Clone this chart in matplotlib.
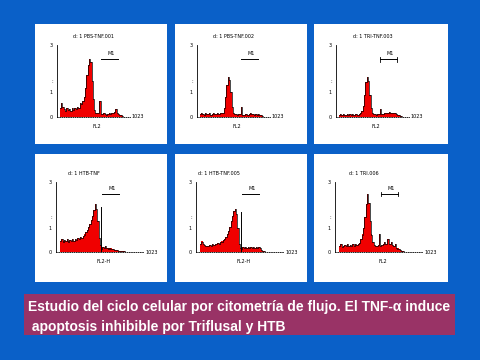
import numpy as np
import matplotlib
matplotlib.use("Agg")
import matplotlib.pyplot as plt
from matplotlib.patches import Rectangle

# ---- data (counts per 16-channel bin, FL2) ----
p1 = [12, 20, 14, 11, 9, 12, 10, 11, 9, 12, 10, 12, 11, 14, 12, 20, 18, 22, 28, 40,
      58, 72, 80, 76, 50, 25, 10, 6, 5, 5, 22, 4, 4, 5, 4, 3, 4, 5, 4, 5,
      6, 7, 11, 6, 4, 3, 3, 2]
p2 = [4, 5, 4, 3, 5, 4, 4, 5, 3, 4, 5, 4, 4, 5, 4, 5, 5, 6, 12, 28,
      45, 55, 52, 35, 14, 6, 4, 4, 3, 4, 4, 14, 3, 3, 4, 4, 3, 4, 5, 4,
      4, 3, 4, 3, 4, 3, 3, 2]
p3 = [3, 4, 3, 4, 3, 3, 4, 3, 4, 3, 4, 3, 4, 4, 3, 4, 5, 8, 15, 30,
      48, 56, 50, 30, 12, 5, 4, 4, 3, 4, 4, 11, 4, 4, 5, 5, 6, 5, 7, 6,
      5, 6, 5, 4, 3, 3, 2, 2]
p4 = [16, 18, 15, 17, 16, 18, 15, 17, 16, 19, 16, 18, 17, 20, 18, 21, 20, 23, 25, 29,
      32, 36, 40, 46, 52, 60, 68, 62, 45, 20, 10, 5, 7, 6, 8, 6, 5, 6, 5, 4,
      4, 3, 3, 3, 2, 2, 2, 2, 1]
p5 = [12, 15, 11, 10, 8, 9, 8, 10, 9, 11, 10, 12, 11, 13, 12, 14, 15, 17, 19, 22,
      26, 30, 36, 44, 52, 58, 62, 55, 35, 12, 6, 5, 7, 6, 7, 6, 7, 6, 7, 6,
      7, 6, 7, 6, 7, 6, 3, 2, 1]
p6 = [8, 12, 7, 9, 10, 8, 12, 9, 10, 8, 11, 9, 12, 10, 11, 13, 18, 25, 35, 50,
      68, 83, 70, 45, 25, 14, 10, 9, 8, 10, 26, 9, 10, 12, 14, 12, 18, 19, 12, 14,
      10, 9, 12, 6, 5, 4, 3, 2, 2]
series = [p1, p2, p3, p4, p5, p6]
titles = ["d: 1 PBS-TNF.001", "d: 1 PBS-TNF.002", "d: 1 TRI-TNF.003",
          "d: 1 HTB-TNF", "d: 1 HTB-TNF.005", "d: 1 TRI.006"]
xlabels = ["FL2", "FL2", "FL2", "FL2-H", "FL2-H", "FL2"]
gate_label = "M1"
bin_w = 16
row_start = [32, 48]
row_xmax = [880, 1048]

fig = plt.figure(figsize=(4.8, 3.6), dpi=100)
fig.patch.set_facecolor("#0A60C8")
W, H = 480.0, 360.0

cols = [(35, 167), (175, 307), (314, 448)]
rows = [(24, 144), (154, 282)]

def fx(x):
    return x / W

def fy(y):
    return 1 - y / H

for k, vals in enumerate(series):
    r, c = divmod(k, 3)
    x0, x1 = cols[c]
    y0, y1 = rows[r]
    fig.patches.append(Rectangle((fx(x0), fy(y1)), fx(x1 - x0), (y1 - y0) / H,
                                 transform=fig.transFigure, facecolor="white",
                                 edgecolor="none", zorder=0))
    if r == 0:
        al, aw, at, ab = x0 + 22, 73, y0 + 21, y0 + 93
    else:
        al, aw, at, ab = x0 + 21, 87, y0 + 28, y0 + 98
    ax = fig.add_axes([fx(al), fy(ab), fx(aw), (ab - at) / H])
    ax.set_zorder(5)
    ax.set_facecolor("none")
    vals = np.array(vals, dtype=float)
    edges = row_start[r] + bin_w * np.arange(len(vals) + 1)
    yy = np.append(vals, vals[-1])
    ax.fill_between(edges, 0, yy, step="post", color="#F00000", lw=0)
    ax.step(edges, yy, where="post", color="black", lw=0.5)
    ax.set_xlim(0, row_xmax[r])
    ax.set_ylim(0, 100)
    for s in ["top", "right"]:
        ax.spines[s].set_visible(False)
    ax.spines["left"].set_linewidth(0.6)
    ax.spines["bottom"].set_linewidth(0.6)
    ax.spines["bottom"].set_linestyle(":")
    ax.set_xticks([])
    ax.set_yticks([0, 35, 50, 100])
    ax.set_yticklabels(["0", "1", ":", "3"], fontsize=3.5)
    ax.tick_params(axis="y", length=0, pad=3)
    ax.text(0.5, 1.12, titles[k], transform=ax.transAxes, fontsize=3.5,
            ha="center" if r == 0 else "right", va="center")
    ax.text(0.55, -0.13, xlabels[k], transform=ax.transAxes, fontsize=3.5,
            ha="center", va="center")
    ax.text(1.1, 0.0, "1023", transform=ax.transAxes, fontsize=3.5,
            ha="center", va="center")
    # gate marker
    if r == 0:
        g0, g1, gy = 532, 740, 80
    else:
        g0, g1, gy = 560, 760, 83
    ax.plot([g0, g1], [gy, gy], color="black", lw=0.7)
    if k in (2, 5):
        ax.plot([g0, g0], [gy - 3, gy + 3], color="black", lw=0.6)
        ax.plot([g1, g1], [gy - 3, gy + 3], color="black", lw=0.6)
    ax.text((g0 + g1) / 2 + 20, gy + 8, gate_label, fontsize=3.5,
            ha="center", va="center")
    if k in (3, 4):
        ax.plot([540, 540], [0, 64 if k == 3 else 57], color="black", lw=0.7)

# caption box
fig.patches.append(Rectangle((fx(24), fy(335)), fx(431), 41 / H,
                             transform=fig.transFigure, facecolor="#993366",
                             edgecolor="none", zorder=0))
fig.text(fx(28), fy(307), "Estudio del ciclo celular por citometría de flujo. El TNF-α induce",
         color="white", fontsize=10, fontweight="bold", family="Liberation Sans",
         ha="left", va="center")
fig.text(fx(28), fy(327), " apoptosis inhibible por Triflusal y HTB",
         color="white", fontsize=10, fontweight="bold", family="Liberation Sans",
         ha="left", va="center")

fig.savefig("out.png", dpi=100, facecolor=fig.get_facecolor())
